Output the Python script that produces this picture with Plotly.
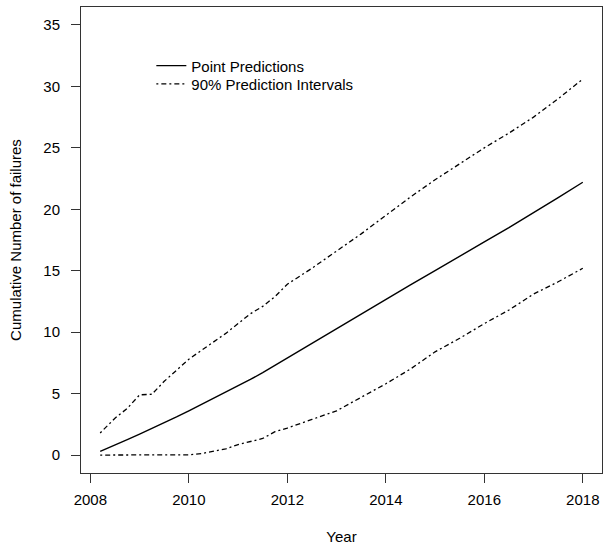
import plotly.graph_objects as go

# values
years = [2008.2, 2008.5, 2008.75, 2009.0, 2009.25, 2009.5, 2009.75, 2010.0,
         2010.25, 2010.5, 2010.75, 2011.0, 2011.25, 2011.5, 2011.75, 2012.0,
         2012.5, 2013.0, 2013.5, 2014.0, 2014.5, 2015.0, 2015.5, 2016.0,
         2016.5, 2017.0, 2017.5, 2018.0]
point_pred = [0.3, 0.8, 1.25, 1.7, 2.15, 2.6, 3.1, 3.6,
              4.1, 4.6, 5.1, 5.6, 6.15, 6.7, 7.3, 7.9,
              9.1, 10.3, 11.5, 12.7, 13.85, 15.0, 16.2, 17.35,
              18.5, 19.7, 20.95, 22.2]
upper_pi = [1.8, 3.0, 3.8, 4.9, 4.95, 6.0, 6.9, 7.8,
            8.5, 9.2, 9.9, 10.7, 11.5, 12.1, 12.9, 13.9,
            15.2, 16.6, 18.0, 19.5, 21.0, 22.4, 23.7, 25.0,
            26.2, 27.5, 29.0, 30.6]
lower_pi = [0.0, 0.0, 0.0, 0.0, 0.0, 0.0, 0.0, 0.02,
            0.12, 0.3, 0.5, 0.85, 1.1, 1.35, 1.9, 2.2,
            2.9, 3.6, 4.7, 5.8, 7.0, 8.4, 9.5, 10.7,
            11.8, 13.1, 14.1, 15.2]
x_ticks = [2008, 2010, 2012, 2014, 2016, 2018]
y_ticks = [0, 5, 10, 15, 20, 25, 30, 35]

FONT = "Liberation Sans, Arial, sans-serif"
DASHDOT = "2px,3px,5px,3px"

fig = go.Figure()
fig.add_trace(go.Scatter(x=years, y=point_pred, mode="lines",
                         name="Point Predictions", legend="legend",
                         line=dict(color="black", width=1.4)))
fig.add_trace(go.Scatter(x=years, y=upper_pi, mode="lines",
                         name="90% Prediction Intervals", legend="legend2",
                         line=dict(color="black", width=1.3, dash=DASHDOT)))
fig.add_trace(go.Scatter(x=years, y=lower_pi, mode="lines",
                         name="lower", showlegend=False,
                         line=dict(color="black", width=1.3, dash=DASHDOT)))

axis_common = dict(showgrid=False, zeroline=False, showline=True, mirror=True,
                   linecolor="#333", linewidth=1, ticks="outside", ticklen=9,
                   tickcolor="#333", tickfont=dict(size=15, color="black"))

fig.update_xaxes(range=[2007.81, 2018.39], tickvals=x_ticks,
                 ticklabelstandoff=4,
                 title=dict(text="Year", font=dict(size=15), standoff=24),
                 **axis_common)
fig.update_yaxes(range=[-1.46, 36.46], tickvals=y_ticks,
                 ticklabelstandoff=8,
                 title=dict(text="Cumulative Number of failures",
                            font=dict(size=15), standoff=18),
                 **axis_common)

# one legend per entry so the row spacing can match the reference
leg = dict(x=0.135, xanchor="left", yanchor="top",
           bgcolor="rgba(0,0,0,0)", itemwidth=30, font=dict(size=15))
fig.update_layout(
    width=603, height=550,
    margin=dict(l=81, r=1, t=7, b=77),
    plot_bgcolor="white", paper_bgcolor="white",
    font=dict(family=FONT, size=15, color="black"),
    legend=dict(y=0.909, **leg),
    legend2=dict(y=0.870, **leg),
)

# drop the page's default 8px body margin so the figure sits at 0,0
fig.write_html("out.html", config={"displayModeBar": False},
               post_script="document.body.style.margin='0px';")
